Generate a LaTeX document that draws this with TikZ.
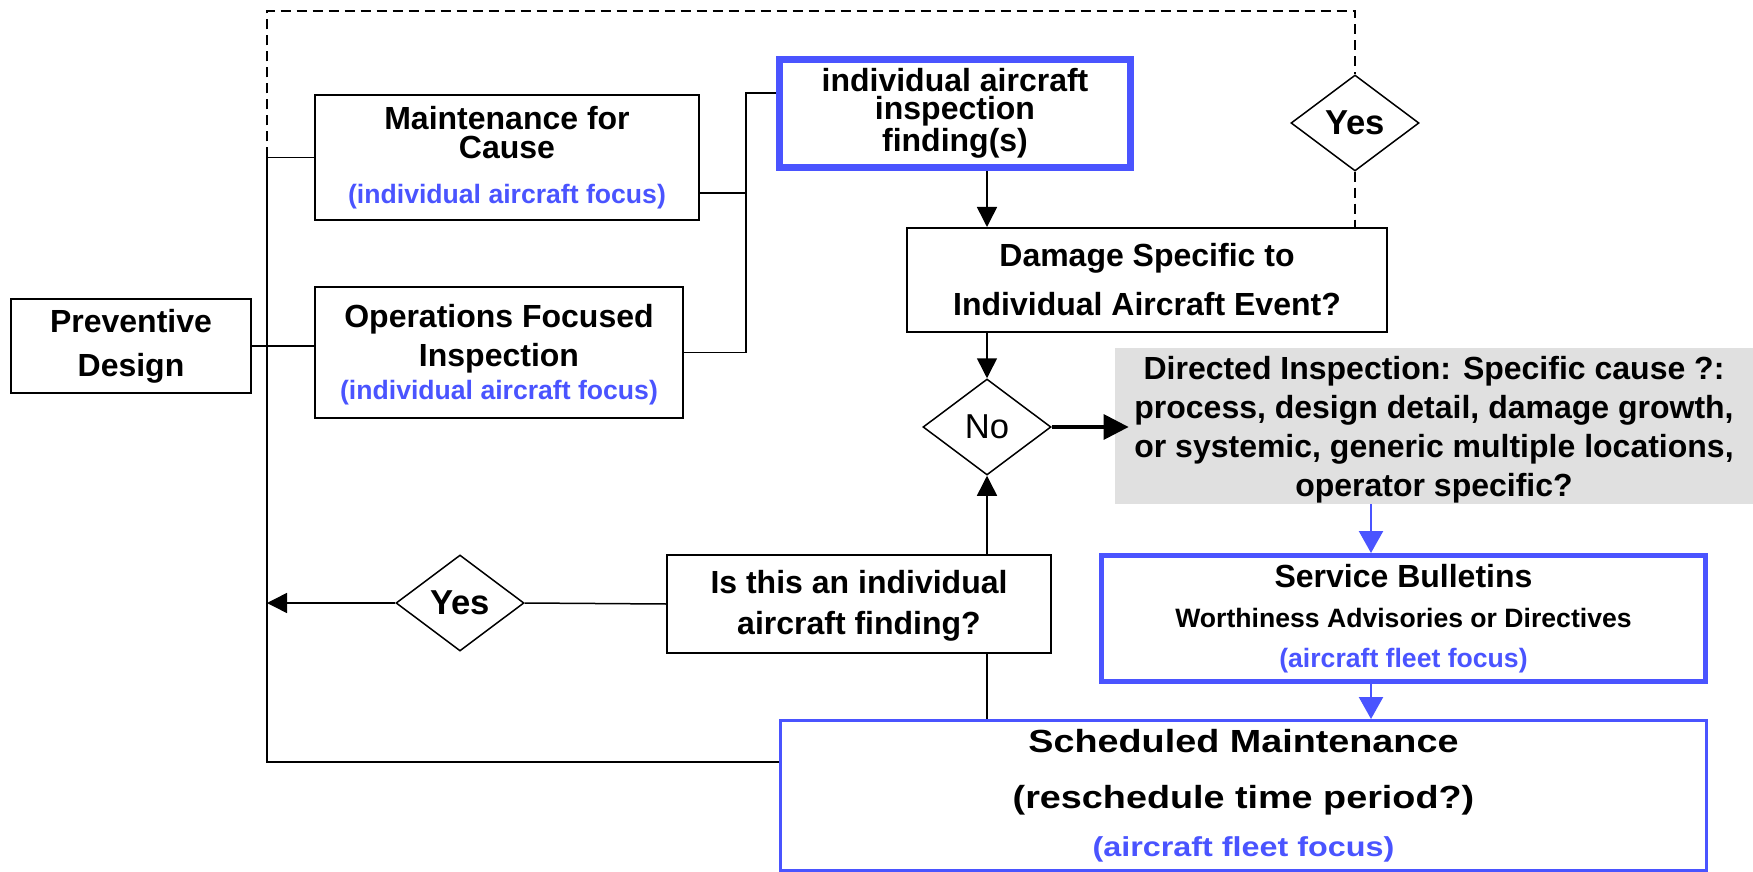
\documentclass[tikz,border=0pt]{standalone}
\usepackage{fontspec}
\setmainfont{Liberation Sans}
\newfontfamily\widefont[FakeStretch=1.18]{Liberation Sans}
\usetikzlibrary{arrows.meta,shapes.geometric,calc}
\definecolor{fblue}{RGB}{74,84,255}
\definecolor{fgray}{RGB}{224,224,224}
\newcommand{\bluetxt}[2][13.3]{{\color{fblue}\fontsize{#1}{16}\selectfont #2}}
\begin{document}
\begin{tikzpicture}[x=0.5pt,y=-0.5pt,
  box/.style={draw, line width=1pt, inner sep=0pt, align=center, font=\bfseries\fontsize{16}{22}\selectfont},
  dia/.style={diamond, draw, line width=0.75pt, inner sep=0pt, minimum width=64pt, minimum height=48pt},
  conn/.style={line width=0.75pt},
  dashline/.style={line width=0.75pt, dash pattern=on 5pt off 3pt},
  arr/.style={conn, -{Triangle[length=10pt,width=10pt]}},
  thickarr/.style={line width=1.7pt, -{Triangle[length=12.5pt,width=12.5pt]}},
  barr/.style={line width=1.2pt, fblue, -{Triangle[length=11pt,width=12pt]}}]
\useasboundingbox (0,0) rectangle (1753,872);
\coordinate (lx) at (267,0);
\coordinate (bx) at (746,0);
\coordinate (bl) at (1371,0);
\coordinate (top) at (0,11);
% boxes
\node[box, minimum width=120pt, minimum height=47pt] (prev) at (131,346) {Preventive\\Design};
\node[box, minimum width=192pt, minimum height=62.5pt, font=\bfseries\fontsize{16}{14.5}\selectfont] (maint) at (507,157.5)
  {Maintenance for\\Cause\\[8pt]\bluetxt{(individual aircraft focus)}};
\node[box, minimum width=184pt, minimum height=65.5pt, font=\bfseries\fontsize{16}{19.5}\selectfont] (ops) at (499,352.5)
  {\rule{0pt}{14pt}Operations Focused\\Inspection\\[-3pt]\bluetxt{(individual aircraft focus)}};
\node[box, draw=fblue, line width=3.5pt, minimum width=175.5pt, minimum height=54pt, font=\bfseries\fontsize{16}{14}\selectfont] (indiv) at (955,113.5)
  {individual aircraft\\inspection\\finding(s)};
\node[box, minimum width=240pt, minimum height=52pt, font=\bfseries\fontsize{16}{24.5}\selectfont] (damage) at (1147,280)
  {Damage Specific to\\Individual Aircraft Event?};
\node[fill=fgray, inner sep=0pt, minimum width=319pt, minimum height=78pt, align=center, font=\bfseries\fontsize{16}{19.4}\selectfont] (gray) at (1434,426)
  {\rule{0pt}{15.5pt}Directed Inspection: Specific cause ?:\\process, design detail, damage growth,\\or systemic, generic multiple locations,\\operator specific?};
\node[box, draw=fblue, line width=2.5pt, minimum width=302pt, minimum height=63pt, font=\bfseries\fontsize{16}{20}\selectfont] (serv) at (1403.5,618.5)
  {Service Bulletins\\{\fontsize{13.3}{18}\selectfont Worthiness Advisories or Directives}\\\bluetxt{(aircraft fleet focus)}};
\node[box, draw=fblue, line width=1.5pt, minimum width=463pt, minimum height=75pt, font=\widefont\bfseries\fontsize{16}{28}\selectfont] (sched) at (1243.5,795.5)
  {Scheduled Maintenance\\(reschedule time period?)\\[-4pt]\bluetxt[13.7]{(aircraft fleet focus)}};
\node[box, minimum width=192pt, minimum height=49pt, font=\bfseries\fontsize{16}{20.5}\selectfont] (isq) at (859,604)
  {\rule{0pt}{13pt}Is this an individual\\aircraft finding?};
% diamonds
\node[dia, font=\bfseries\fontsize{17.3}{20}\selectfont] (yes1) at (1355,123) {Yes};
\node[dia, font=\fontsize{17.3}{20}\selectfont] (no) at (987,427) {No};
\node[dia, font=\bfseries\fontsize{17.3}{20}\selectfont] (yes2) at (460,603) {Yes};
% dashed feedback
\coordinate (mj) at (maint.west -| lx);
\draw[dashline] (mj) -- (mj |- top) -- (yes1.north |- top) -- (yes1.north);
\draw[dashline] (yes1.south) -- (yes1.south |- damage.north);
% left trunk
\coordinate (sj) at ($(sched.north west)+(0,43)$);
\draw[conn] (maint.west) -- (mj) -- (mj |- sj) -- (sj);
\draw[conn] (prev.east) -- (prev.east -| ops.west);
% bracket
\coordinate (m1) at ($(maint.south east)+(0,-28)$);
\coordinate (i1) at ($(indiv.north west)+(0,37)$);
\draw[conn] (m1) -- (m1 -| bx) -- (bx |- ops.east) -- (ops.east);
\draw[conn] (m1 -| bx) -- (i1 -| bx) -- (i1);
% main flow
\draw[arr] (indiv.south -| no) -- (damage.north -| no);
\draw[arr] (damage.south -| no) -- (no.north);
\draw[thickarr, shorten >=-7pt] (no.east) -- (no.east -| gray.west);
\draw[arr] (isq.north -| no) -- (no.south);
\draw[conn] (isq.south -| no) -- (sched.north -| no);
\draw[conn] (isq.west) -- (yes2.east);
\draw[arr] (yes2.west) -- (yes2.west -| lx);
\draw[barr] (gray.south -| bl) -- (serv.north -| bl);
\draw[barr] (serv.south -| bl) -- (sched.north -| bl);
\end{tikzpicture}
\end{document}
